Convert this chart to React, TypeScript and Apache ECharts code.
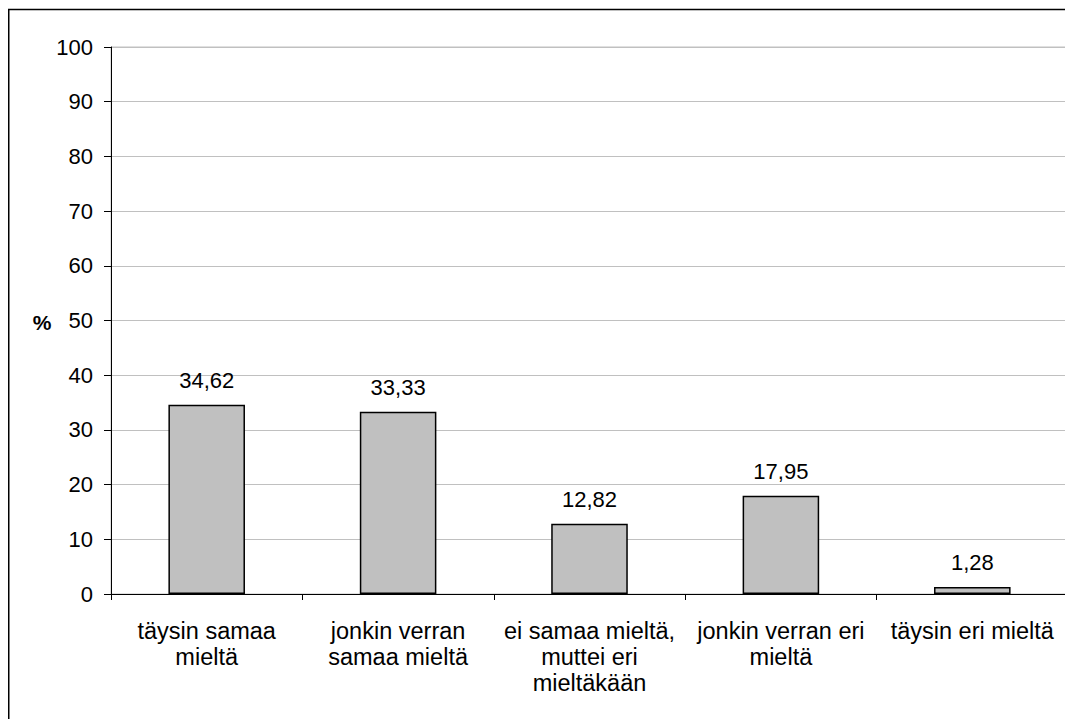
import React, { useEffect, useRef } from "react";
import * as echarts from "echarts";

const categories = [
  "täysin samaa\nmieltä",
  "jonkin verran\nsamaa mieltä",
  "ei samaa mieltä,\nmuttei eri\nmieltäkään",
  "jonkin verran eri\nmieltä",
  "täysin eri mieltä",
];
const values = [34.62, 33.33, 12.82, 17.95, 1.28];
const yMin = 0;
const yMax = 100;
const yInterval = 10;
const yAxisTitle = "%";

const FONT = "'Liberation Sans', Arial, sans-serif";

export default function App() {
  const ref = useRef<HTMLDivElement>(null);
  useEffect(() => {
    if (!ref.current) return;
    const chart = echarts.init(ref.current, null, { renderer: "svg" });
    chart.setOption({
      animation: false,
      backgroundColor: "#ffffff",
      textStyle: { fontFamily: FONT },
      grid: {
        left: 103,
        top: 39,
        right: 5,
        bottom: 125,
        show: true,
        borderColor: "#c0c0c0",
        borderWidth: 1,
        backgroundColor: "transparent",
      },
      graphic: [
        {
          type: "rect",
          shape: { x: 0.75, y: 1.5, width: 1200, height: 900 },
          style: { fill: "none", stroke: "#000", lineWidth: 1.5 },
          silent: true,
        },
        {
          type: "text",
          x: 34,
          y: 314,
          style: {
            text: yAxisTitle,
            font: `bold 21px ${FONT}`,
            fill: "#000",
            textAlign: "center",
            textVerticalAlign: "middle",
          },
        },
      ],
      xAxis: {
        type: "category",
        data: categories,
        boundaryGap: true,
        axisLine: { show: true, lineStyle: { color: "#000", width: 1 } },
        axisTick: {
          show: true,
          alignWithLabel: false,
          length: 6,
          lineStyle: { color: "#000" },
        },
        axisLabel: {
          color: "#000",
          fontSize: 23.5,
          lineHeight: 26,
          margin: 24,
          interval: 0,
          fontFamily: FONT,
        },
        splitLine: { show: false },
      },
      yAxis: {
        type: "value",
        min: yMin,
        max: yMax,
        interval: yInterval,
        axisLine: { show: true, lineStyle: { color: "#000", width: 1 } },
        axisTick: { show: true, length: 7, lineStyle: { color: "#000" } },
        axisLabel: {
          color: "#000",
          fontSize: 22,
          margin: 18,
          fontFamily: FONT,
        },
        splitLine: { show: true, lineStyle: { color: "#c0c0c0", width: 1 } },
      },
      series: [
        {
          type: "bar",
          data: values,
          barWidth: "40%",
          itemStyle: { color: "#c0c0c0", borderColor: "#000", borderWidth: 1.5 },
          label: {
            show: true,
            position: "top",
            distance: 13,
            color: "#000",
            fontSize: 22,
            fontFamily: FONT,
            formatter: (p: any) => String(p.value.toFixed(2)).replace(".", ","),
          },
        },
      ],
    });
    return () => chart.dispose();
  }, []);
  return <div ref={ref} style={{ width: 1065, height: 711 }} />;
}
